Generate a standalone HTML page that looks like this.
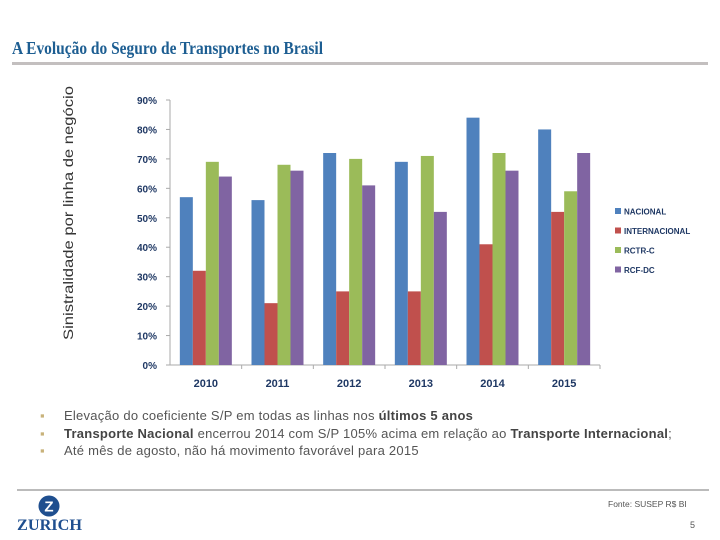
<!DOCTYPE html>
<html><head><meta charset="utf-8">
<style>
body{margin:0;width:720px;height:540px;background:#fff;position:relative;overflow:hidden;font-family:"Liberation Sans",sans-serif}
.abs{position:absolute}
</style></head>
<body>
<svg class="abs" style="left:0;top:0" width="720" height="70">
<text x="12" y="54" textLength="311" lengthAdjust="spacingAndGlyphs" font-family="Liberation Serif, serif" font-weight="bold" font-size="18" fill="#1d5e92">A Evolução do Seguro de Transportes no Brasil</text>
</svg>
<div class="abs" style="left:12px;top:62px;width:696px;height:3px;background:#c3bfbf"></div>
<svg class="abs" style="left:0;top:0" width="720" height="540">
<text transform="translate(73,213) rotate(-90)" text-anchor="middle" font-size="14" textLength="254" lengthAdjust="spacingAndGlyphs" fill="#333" font-family="Liberation Sans, sans-serif">Sinistralidade por linha de negócio</text>
<g id="plot"></g>
</svg>
<div class="abs" style="left:40px;top:407px;font-size:13px;letter-spacing:0.25px;color:#555;line-height:17.5px;white-space:nowrap">
<div><span style="color:#c8b27a;display:inline-block;width:24px">▪</span>Elevação do coeficiente S/P em todas as linhas nos <b style="color:#444">últimos 5 anos</b></div>
<div><span style="color:#c8b27a;display:inline-block;width:24px">▪</span><b style="color:#444">Transporte Nacional</b> encerrou 2014 com S/P 105% acima em relação ao <b style="color:#444">Transporte Internacional</b>;</div>
<div><span style="color:#c8b27a;display:inline-block;width:24px">▪</span>Até mês de agosto, não há movimento favorável para 2015</div>
</div>
<div class="abs" style="left:17px;top:489px;width:692px;height:2px;background:#bbb"></div>
<svg class="abs" style="left:36px;top:495px" width="26" height="22"><circle cx="13" cy="11" r="10.5" fill="#1f4f8f"/><text x="13" y="16.5" text-anchor="middle" font-size="15" font-weight="bold" fill="#fff" font-family="Liberation Sans, sans-serif">Z</text></svg>
<svg class="abs" style="left:0;top:510px" width="100" height="25"><text x="17" y="20" textLength="65" lengthAdjust="spacingAndGlyphs" font-family="Liberation Serif, serif" font-size="16" font-weight="bold" fill="#1f4f8f">ZURICH</text></svg>
<div class="abs" style="left:608px;top:499px;font-size:8.5px;color:#555">Fonte: SUSEP R$ BI</div>
<div class="abs" style="left:690px;top:520px;font-size:9px;color:#555">5</div>
<script>
const categories=["2010","2011","2012","2013","2014","2015"];
const seriesNames=["NACIONAL","INTERNACIONAL","RCTR-C","RCF-DC"];
const nacional=[57,56,72,69,84,80];
const internacional=[32,21,25,25,41,52];
const rctrc=[69,68,70,71,72,59];
const rcfdc=[64,66,61,52,66,72];
const yTicks=[0,10,20,30,40,50,60,70,80,90];
const colors=["#4f81bd","#c0504d","#9bbb59","#8064a2"];
const NS="http://www.w3.org/2000/svg";
const g=document.getElementById('plot');
const x0=170,x1=600,y0=365,yTop=100,yMax=90;
const yS=v=>y0-(v/yMax)*(y0-yTop);
const cw=(x1-x0)/categories.length;
const bw=13;
function mk(t,a){const e=document.createElementNS(NS,t);for(const k in a)e.setAttribute(k,a[k]);g.appendChild(e);return e;}
const ax=mk('line',{x1:x0,x2:x0,y1:yTop,y2:y0,stroke:'#aaa'});


const bx=mk('line',{x1:x0,x2:x1,y1:y0,y2:y0,stroke:'#aaa'});


yTicks.forEach(v=>{
 const t=mk('text',{x:157,y:yS(v)+4,'text-anchor':'end','font-size':10,'font-weight':'bold',fill:'#1f3864'});
 t.textContent=v+'%';
 
 
 mk('line',{x1:x0-4,x2:x0,y1:yS(v),y2:yS(v),stroke:'#aaa'});
});
const all=[nacional,internacional,rctrc,rcfdc];
categories.forEach((c,i)=>{
 const cx=x0+cw*i+cw/2;
 const l=mk('text',{x:cx,y:y0+22,'text-anchor':'middle','font-size':11,'font-weight':'bold',fill:'#1f3864'});
 l.textContent=c;
 
 
 mk('line',{x1:x0+cw*(i+1),x2:x0+cw*(i+1),y1:y0,y2:y0+4,stroke:'#aaa'});
 all.forEach((s,j)=>{
  const r=mk('rect',{x:cx-2*bw+j*bw,y:yS(s[i]),width:bw,height:y0-yS(s[i]),fill:colors[j]});
  
  
 });
});
seriesNames.forEach((n,j)=>{
 const yy=212+j*19.5;
 const r=mk('rect',{x:615,y:yy-4,width:6,height:6,fill:colors[j]});
 
 
 const t=mk('text',{x:624,y:yy+2.5,'font-size':8,'font-weight':'bold',fill:'#1f3864'});
 t.textContent=n;
 
 
});
</script>
</body></html>
